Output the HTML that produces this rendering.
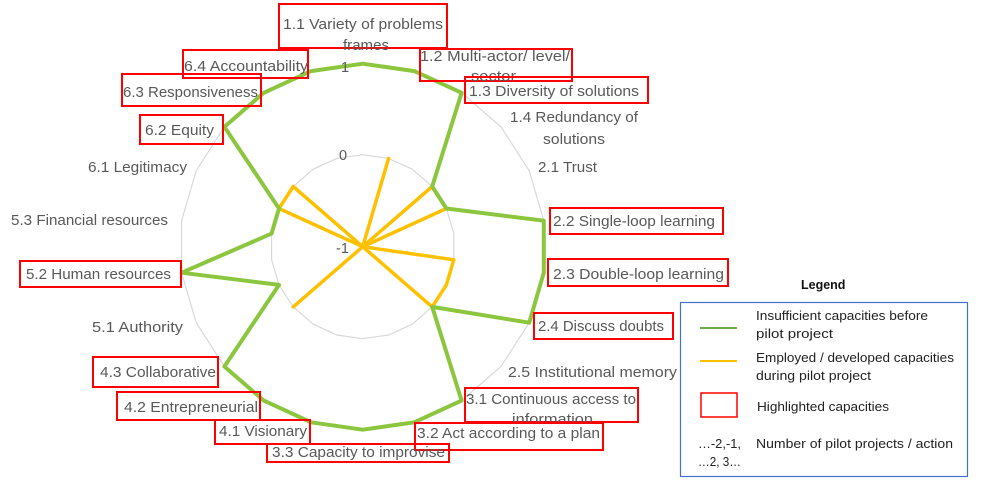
<!DOCTYPE html>
<html><head><meta charset="utf-8"><style>
html,body{margin:0;padding:0;background:#fff;width:989px;height:489px;overflow:hidden}
svg{display:block}
.l{font-family:"Liberation Sans",sans-serif;font-size:14.5px;fill:#595959}
.g{font-family:"Liberation Sans",sans-serif;font-size:12.5px;fill:#222}
.b{fill:none;stroke:#ff0000;stroke-width:2}
</style></head><body>
<svg id="s" width="989" height="489" xmlns="http://www.w3.org/2000/svg">
<g id="grid"></g>
<polyline id="yel" fill="none" stroke="#FFC000" stroke-width="3.5" stroke-linejoin="round"/>
<polygon id="grn" fill="none" stroke="#8CC63F" stroke-width="4" stroke-linejoin="round"/>
<text class="l" x="341" y="72">1</text>
<text class="l" x="339" y="160">0</text>
<text class="l" x="336" y="253">-1</text>

<rect class="b" x="279" y="4" width="168" height="44"/>
<text class="l" x="283" y="29" textLength="160" lengthAdjust="spacingAndGlyphs">1.1 Variety of problems</text>
<text class="l" x="343" y="50" textLength="46" lengthAdjust="spacingAndGlyphs">frames</text>
<rect class="b" x="420" y="49" width="152" height="32"/>
<text class="l" x="420" y="61" textLength="150" lengthAdjust="spacingAndGlyphs">1.2 Multi-actor/ level/</text>
<text class="l" x="471" y="81" textLength="45" lengthAdjust="spacingAndGlyphs">sector</text>
<rect class="b" x="465" y="77" width="183" height="26"/>
<text class="l" x="469" y="96" textLength="170" lengthAdjust="spacingAndGlyphs">1.3 Diversity of solutions</text>
<text class="l" x="510" y="122" textLength="128" lengthAdjust="spacingAndGlyphs">1.4 Redundancy of</text>
<text class="l" x="543" y="144" textLength="62" lengthAdjust="spacingAndGlyphs">solutions</text>
<text class="l" x="538" y="172" textLength="59" lengthAdjust="spacingAndGlyphs">2.1 Trust</text>
<rect class="b" x="550" y="208" width="173" height="26"/>
<text class="l" x="553" y="226" textLength="162" lengthAdjust="spacingAndGlyphs">2.2 Single-loop learning</text>
<rect class="b" x="548" y="259" width="180" height="27"/>
<text class="l" x="553" y="279" textLength="171" lengthAdjust="spacingAndGlyphs">2.3 Double-loop learning</text>
<rect class="b" x="534" y="313" width="139" height="26"/>
<text class="l" x="538" y="331" textLength="126" lengthAdjust="spacingAndGlyphs">2.4 Discuss doubts</text>
<text class="l" x="508" y="377" textLength="169" lengthAdjust="spacingAndGlyphs">2.5 Institutional memory</text>
<rect class="b" x="465" y="388" width="173" height="34"/>
<text class="l" x="466" y="404" textLength="170" lengthAdjust="spacingAndGlyphs">3.1 Continuous access to</text>
<text class="l" x="512" y="424" textLength="81" lengthAdjust="spacingAndGlyphs">information</text>
<rect class="b" x="415" y="423" width="188" height="27"/>
<text class="l" x="417" y="438" textLength="183" lengthAdjust="spacingAndGlyphs">3.2 Act according to a plan</text>
<rect class="b" x="267" y="444" width="182" height="18"/>
<text class="l" x="272" y="457" textLength="173" lengthAdjust="spacingAndGlyphs">3.3 Capacity to improvise</text>
<rect class="b" x="215" y="420" width="95" height="24"/>
<text class="l" x="219" y="436" textLength="88" lengthAdjust="spacingAndGlyphs">4.1 Visionary</text>
<rect class="b" x="117" y="392" width="143" height="28"/>
<text class="l" x="124" y="412" textLength="134" lengthAdjust="spacingAndGlyphs">4.2 Entrepreneurial</text>
<rect class="b" x="93" y="357" width="125" height="30"/>
<text class="l" x="100" y="377" textLength="116" lengthAdjust="spacingAndGlyphs">4.3 Collaborative</text>
<text class="l" x="92" y="332" textLength="91" lengthAdjust="spacingAndGlyphs">5.1 Authority</text>
<rect class="b" x="20" y="261" width="161" height="26"/>
<text class="l" x="26" y="279" textLength="145" lengthAdjust="spacingAndGlyphs">5.2 Human resources</text>
<text class="l" x="11" y="225" textLength="157" lengthAdjust="spacingAndGlyphs">5.3 Financial resources</text>
<text class="l" x="88" y="172" textLength="99" lengthAdjust="spacingAndGlyphs">6.1 Legitimacy</text>
<rect class="b" x="140" y="115" width="83" height="29"/>
<text class="l" x="145" y="135" textLength="69" lengthAdjust="spacingAndGlyphs">6.2 Equity</text>
<rect class="b" x="122" y="74" width="139" height="32"/>
<text class="l" x="123" y="97" textLength="135" lengthAdjust="spacingAndGlyphs">6.3 Responsiveness</text>
<rect class="b" x="183" y="50" width="125" height="28"/>
<text class="l" x="184" y="71" textLength="124" lengthAdjust="spacingAndGlyphs">6.4 Accountability</text>

<text x="801" y="289" style="font-family:'Liberation Sans',sans-serif;font-size:12.5px;font-weight:bold;fill:#111">Legend</text>
<rect x="680.5" y="302.5" width="287" height="174" fill="none" stroke="#4472C4" stroke-width="1.2"/>
<line x1="700" y1="328" x2="737" y2="328" stroke="#70AD47" stroke-width="2"/>
<text class="g" x="756" y="320" textLength="172" lengthAdjust="spacingAndGlyphs">Insufficient capacities before</text>
<text class="g" x="756" y="338" textLength="77" lengthAdjust="spacingAndGlyphs">pilot project</text>
<line x1="700" y1="361" x2="737" y2="361" stroke="#FFC000" stroke-width="2"/>
<text class="g" x="756" y="362" textLength="198" lengthAdjust="spacingAndGlyphs">Employed / developed capacities</text>
<text class="g" x="756" y="380" textLength="115" lengthAdjust="spacingAndGlyphs">during pilot project</text>
<rect x="701" y="393" width="36" height="24" fill="none" stroke="#ff0000" stroke-width="1.5"/>
<text class="g" x="757" y="411" textLength="132" lengthAdjust="spacingAndGlyphs">Highlighted capacities</text>
<text class="g" x="698" y="448" textLength="43" lengthAdjust="spacingAndGlyphs">…-2,-1,</text>
<text class="g" x="698" y="466" textLength="43" lengthAdjust="spacingAndGlyphs">…2, 3…</text>
<text class="g" x="756" y="448" textLength="197" lengthAdjust="spacingAndGlyphs">Number of pilot projects / action</text>
</svg>
<script>
var cx=362.7,cy=246.7,R=[0,92,183],N=22;
function pt(i,v){var a=i*2*Math.PI/N,r=R[v+1];return [cx+r*Math.sin(a),cy-r*Math.cos(a)];}
function ring(r){var p=[];for(var i=0;i<N;i++){var a=i*2*Math.PI/N;p.push((cx+r*Math.sin(a)).toFixed(1)+','+(cy-r*Math.cos(a)).toFixed(1));}return p.join(' ');}
var g=document.getElementById('grid');
[92,183].forEach(function(r){var e=document.createElementNS('http://www.w3.org/2000/svg','polygon');e.setAttribute('points',ring(r));e.setAttribute('fill','none');e.setAttribute('stroke','#D9D9D9');e.setAttribute('stroke-width','1.2');g.appendChild(e);});
var gv=[1,1,1,0,0,1,1,1,0,1,1,1,1,1,1,0,1,0,0,1,1,1];
var yv=[-1,0,-1,0,0,-1,0,0,0,-1,-1,-1,-1,-1,0,-1,-1,-1,0,0,-1,-1];
document.getElementById('grn').setAttribute('points',gv.map(function(v,i){return pt(i,v).map(function(n){return n.toFixed(1)}).join(',')}).join(' '));
var yp=yv.map(function(v,i){return pt(i,v).map(function(n){return n.toFixed(1)}).join(',')});yp.push(yp[0]);
document.getElementById('yel').setAttribute('points',yp.join(' '));
</script>
</body></html>
